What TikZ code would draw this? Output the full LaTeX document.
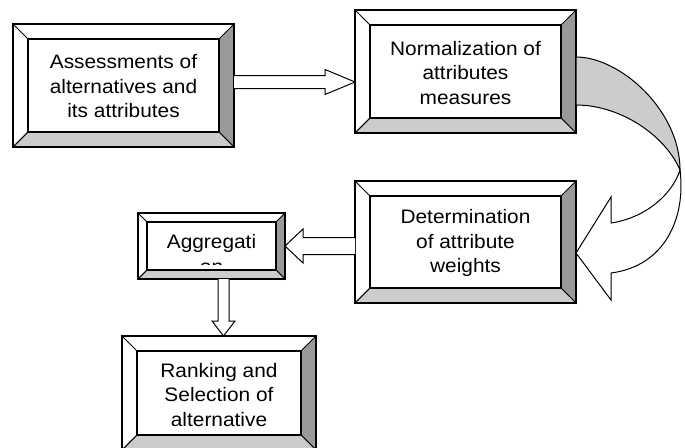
\documentclass[tikz,border=0pt]{standalone}
\usepackage{fontspec}
\setmainfont{Liberation Sans}[FakeStretch=1.07]
\usetikzlibrary{calc,fit}
\definecolor{rgray}{HTML}{999999}
\definecolor{bgray}{HTML}{CCCCCC}
\tikzset{
  txt/.style={align=center, inner sep=0pt, font=\fontsize{19.5}{24.5}\selectfont},
  fatarrow/.style={fill=white, draw=black, line width=1pt, line join=miter},
  ribbon/.style={fill=bgray, draw=black, line width=1pt},
}
\newcommand\bevbox[4]{%
  \coordinate (#1-nw) at (#2); \coordinate (#1-se) at (#3);
  \node[fit=(#1-nw)(#1-se), inner sep=0pt, outer sep=0pt] (#1) {};
  \coordinate (#1-ia) at ($(#1.north west)+(#4,#4)$);
  \coordinate (#1-ib) at ($(#1.north east)+(-#4,#4)$);
  \coordinate (#1-ic) at ($(#1.south east)+(-#4,-#4)$);
  \coordinate (#1-id) at ($(#1.south west)+(#4,-#4)$);
  \fill[white] (#1.north west) rectangle (#1.south east);
  \filldraw[fill=rgray, draw=black, line width=0.9pt] (#1.north east) -- (#1.south east) -- (#1-ic) -- (#1-ib) -- cycle;
  \filldraw[fill=bgray, draw=black, line width=0.9pt] (#1.south west) -- (#1-id) -- (#1-ic) -- (#1.south east) -- cycle;
  \draw[line width=0.9pt] (#1.north west) -- (#1-ia) (#1.south west) -- (#1-id);
  \draw[line width=1.3pt] (#1-ia) rectangle (#1-ic);
  \draw[line width=1.6pt] (#1.north west) rectangle (#1.south east);
}
\begin{document}
\begin{tikzpicture}[x=1pt, y=-1pt]
\useasboundingbox (0,0) rectangle (685,447);
\begin{scope}
\clip (0,0) rectangle (685,447);
% boxes
\bevbox{b1}{13,24}{234,147}{15}
\bevbox{b2}{355,10}{576,133}{15}
\bevbox{b3}{355,181}{576,303}{15}
\bevbox{agg}{138,213}{285,279}{9}
\bevbox{rank}{122,336}{316,450}{15}
\end{scope}
% texts
\node[txt] (b1t) at ($(b1.center)+(0,1)$) {Assessments of\\alternatives and\\its attributes};
\node[txt] (b2t) at ($(b2.center)+(0,1.5)$) {Normalization of\\attributes\\measures};
\node[txt] (b3t) at ($(b3.center)+(0,1)$) {Determination\\of attribute\\weights};
\node[txt] (rankt) at ($(rank.center)+(0,2)$) {Ranking and\\Selection of\\alternative};
\begin{scope}
\clip (agg-ia) rectangle ($(agg-ic)+(0,-6)$);
\node[txt, anchor=base] (aggt1) at ($(agg.center)+(0,2.5)$) {Aggregati};
\node[txt, anchor=base] (aggt2) at ($(aggt1.base)+(0,24.5)$) {on};
\end{scope}
% arrow 1: b1 -> b2
\coordinate (a1s) at ($(b1.east)+(0,-3.5)$);
\coordinate (a1t) at (a1s -| b2.west);
\draw[fatarrow] ($(a1s)+(0,-6.5)$) -- ($(a1t)+(-30,-6.5)$) -- ($(a1t)+(-30,-12.5)$) -- (a1t)
  -- ($(a1t)+(-30,12.5)$) -- ($(a1t)+(-30,6.5)$) -- ($(a1s)+(0,6.5)$);
% arrow b3 -> agg
\coordinate (a2t) at (agg.east);
\coordinate (a2s) at (a2t -| b3.west);
\draw[fatarrow] ($(a2s)+(0,-8.5)$) -- ($(a2t)+(18,-8.5)$) -- ($(a2t)+(18,-17)$) -- (a2t)
  -- ($(a2t)+(18,17)$) -- ($(a2t)+(18,8.5)$) -- ($(a2s)+(0,8.5)$);
% arrow agg -> rank
\coordinate (a3s) at ($(agg.south)+(12,0)$);
\coordinate (a3t) at (a3s |- rank.north);
\draw[fatarrow] ($(a3s)+(-5.5,0)$) -- ($(a3t)+(-5.5,-15)$) -- ($(a3t)+(-11.5,-15)$) -- (a3t)
  -- ($(a3t)+(11.5,-15)$) -- ($(a3t)+(5.5,-15)$) -- ($(a3s)+(5.5,0)$);
% curved arrow b2 -> b3
\coordinate (c1) at ($(b2.east)+(0,-14.5)$);
\coordinate (c2) at ($(b2.east)+(0,33.5)$);
\coordinate (ct) at ($(b3.east)+(0,11)$);
\coordinate (cm) at (680,170);
\draw[ribbon] (c1) .. controls (620,57) and (680,110) .. (cm)
  .. controls (665,135) and (620,105) .. (c2) -- cycle;
\draw[fatarrow] (cm) .. controls (686,218) and (665,266) .. ($(ct)+(35,20)$)
  -- ($(ct)+(35,47)$) -- (ct) -- ($(ct)+(35,-56)$) -- ($(ct)+(35,-30)$)
  .. controls (645,218) and (672,195) .. (cm) -- cycle;
\end{tikzpicture}
\end{document}
